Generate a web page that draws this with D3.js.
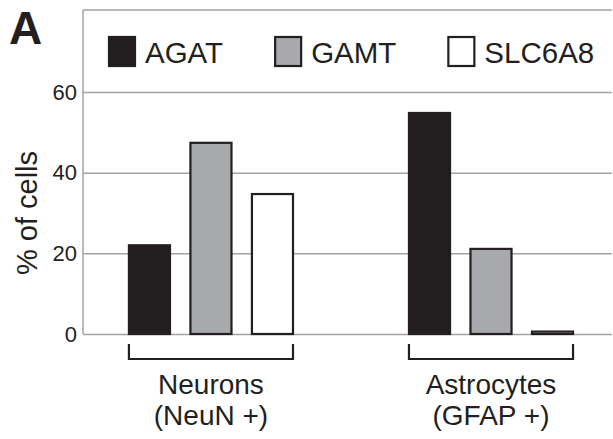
<!DOCTYPE html>
<html>
<head>
<meta charset="utf-8">
<script src="https://cdn.jsdelivr.net/npm/d3@7"></script>
<style>
  body { margin: 0; background: #fff; }
  text { font-family: "Liberation Sans", Arial, sans-serif; fill: #231f20; }
</style>
</head>
<body>
<div id="chart"></div>
<script>
'use strict';

// data
const groups = ["Neurons", "Astrocytes"];
const groupLines = [["Neurons", "(NeuN +)"], ["Astrocytes", "(GFAP +)"]];
const genes = ["AGAT", "GAMT", "SLC6A8"];
const agat = [22, 54.8];
const gamt = [47.4, 21.1];
const slc6a8 = [34.7, 0.6];
const yTicks = [0, 20, 40, 60];

const colors = ["#231f20", "#a7a9ac", "#ffffff"];
const gridColor = "#a3a3a3";

const m = { width: 613, height: 439, left: 83, right: 612, top: 10, bottom: 334 };

const svg = d3.select("#chart").append("svg")
  .attr("width", m.width)
  .attr("height", m.height);

let y = d3.scaleLinear()
  .domain([0, 60])
  .range([m.bottom, 92]);

let x0 = d3.scaleBand()
  .domain(groups)
  .range([m.left, m.right])
  .paddingInner(0.407)
  .paddingOuter(0.148)
  .align(0.542);

let x1 = d3.scaleBand()
  .domain(genes)
  .range([0, x0.bandwidth()])
  .paddingInner(0.30);

let color = d3.scaleOrdinal().domain(genes).range(colors);

// frame: top and left lines
svg.append("line")
  .attr("x1", m.left).attr("x2", m.right)
  .attr("y1", m.top).attr("y2", m.top)
  .attr("stroke", gridColor).attr("stroke-width", 1.5);
svg.append("line")
  .attr("x1", m.left).attr("x2", m.left)
  .attr("y1", m.top).attr("y2", m.bottom)
  .attr("stroke", gridColor).attr("stroke-width", 1.5);

// y axis with gridlines
let yAxis = d3.axisLeft(y)
  .tickValues(yTicks)
  .tickSize(-(m.right - m.left))
  .tickPadding(6)
  .tickFormat(d3.format("d"));

let yg = svg.append("g")
  .attr("transform", "translate(" + m.left + ",0)")
  .call(yAxis);
yg.select(".domain").remove();
yg.selectAll(".tick line")
  .attr("stroke", gridColor)
  .attr("stroke-width", 1.5);
yg.selectAll(".tick text")
  .attr("x", -6)
  .style("font-size", "22px")
  .style("font-family", "Liberation Sans, Arial, sans-serif")
  .attr("fill", "#231f20");

// bars
let rows = groups.map((g, i) => ({
  group: g,
  values: [
    { gene: "AGAT", value: agat[i] },
    { gene: "GAMT", value: gamt[i] },
    { gene: "SLC6A8", value: slc6a8[i] }
  ]
}));

let gGroups = svg.selectAll(".grp")
  .data(rows)
  .enter()
  .append("g")
  .attr("class", "grp")
  .attr("transform", d => "translate(" + x0(d.group) + ",0)");

gGroups.selectAll("rect")
  .data(d => d.values)
  .enter()
  .append("rect")
  .attr("x", d => x1(d.gene) + 1)
  .attr("width", x1.bandwidth() - 2)
  .attr("y", d => y(d.value))
  .attr("height", d => y(0) - y(d.value))
  .attr("fill", d => color(d.gene))
  .attr("stroke", "#231f20")
  .attr("stroke-width", 2.2);

// brackets under each group
gGroups.append("path")
  .attr("d", "M1," + (m.bottom + 10) + "V" + (m.bottom + 25) +
    "H" + (x0.bandwidth() - 1) + "V" + (m.bottom + 10))
  .attr("fill", "none")
  .attr("stroke", "#231f20")
  .attr("stroke-width", 2.2);

// group labels (two lines)
gGroups.each(function(d, i) {
  let t = d3.select(this).append("text")
    .attr("text-anchor", "middle")
    .style("font-size", "28px");
  t.selectAll("tspan")
    .data(groupLines[i])
    .enter()
    .append("tspan")
    .attr("x", x0.bandwidth() / 2)
    .attr("y", (s, j) => 394 + j * 31)
    .text(s => s);
});

// legend
let lx = 108;
genes.forEach(function(gname) {
  svg.append("rect")
    .attr("x", lx + 1)
    .attr("y", 37)
    .attr("width", 26)
    .attr("height", 29)
    .attr("fill", color(gname))
    .attr("stroke", "#231f20")
    .attr("stroke-width", 2.2);
  let t = svg.append("text")
    .attr("x", lx + 37)
    .attr("y", 63)
    .style("font-size", "29.5px")
    .text(gname);
  lx = lx + 37 + t.node().getComputedTextLength() + 51;
});

// y axis label
svg.append("text")
  .attr("transform", "translate(37," + 213 + ")rotate(-90)")
  .attr("text-anchor", "middle")
  .style("font-size", "29px")
  .text("% of cells");

// panel letter
svg.append("text")
  .attr("x", 9)
  .attr("y", 44)
  .style("font-size", "46px")
  .style("font-weight", "bold")
  .text("A");
</script>
</body>
</html>
